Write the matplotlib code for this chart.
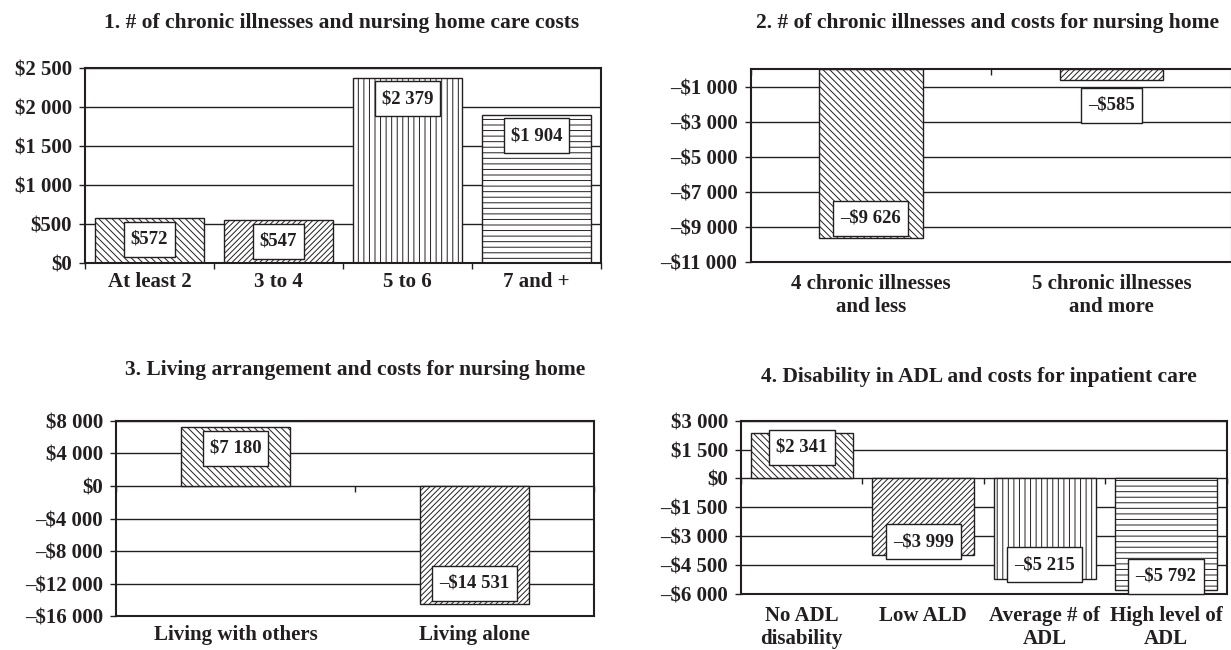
import matplotlib.pyplot as plt
import numpy as np
from matplotlib.path import Path

plt.rcParams['font.family'] = ['Liberation Serif', 'DejaVu Serif']
plt.rcParams['font.weight'] = 'bold'
plt.rcParams['hatch.linewidth'] = 0.7

INK = '#231f20'
W, H = 1231, 650

# 1. number of chronic illnesses vs nursing home care costs
cats1 = ['At least 2', '3 to 4', '5 to 6', '7 and +']
vals1 = [572, 547, 2379, 1904]
ticks1 = [0, 500, 1000, 1500, 2000, 2500]

# 2. chronic illnesses (two groups) vs nursing home costs
cats2 = ['4 chronic illnesses\nand less', '5 chronic illnesses\nand more']
vals2 = [-9626, -585]
ticks2 = [-11000, -9000, -7000, -5000, -3000, -1000]

# 3. living arrangement vs nursing home costs
cats3 = ['Living with others', 'Living alone']
vals3 = [7180, -14531]
ticks3 = [-16000, -12000, -8000, -4000, 0, 4000, 8000]

# 4. ADL disability vs inpatient care costs
cats4 = ['No ADL\ndisability', 'Low ALD', 'Average # of\nADL', 'High level of\nADL']
vals4 = [2341, -3999, -5215, -5792]
ticks4 = [-6000, -4500, -3000, -1500, 0, 1500, 3000]

BACK = '\\\\\\\\\\'
FWD = '//////'
VERT = '|||'
HORIZ = '---'


def money(v):
    s = f'${abs(v):,}'.replace(',', ' ')
    return '\u2013' + s if v < 0 else s


def label_box(x0, y0, width, height, mutation_size):
    # plain rectangle, padded more vertically than horizontally
    px, py = 0.38 * mutation_size, 0.48 * mutation_size
    x0, y0 = x0 - px, y0 - py
    x1, y1 = x0 + width + 2 * px, y0 + height + 2 * py
    return Path([(x0, y0), (x1, y0), (x1, y1), (x0, y1), (x0, y0)],
                closed=True)


fig = plt.figure(figsize=(W / 100, H / 100), dpi=100)


def draw_panel(rect, title, title_xy, cats, vals, yticks, ylim, width,
               hatches, label_off, xpad):
    l, t, r, b = rect
    ax = fig.add_axes([l / W, 1 - b / H, (r - l) / W, (b - t) / H])
    x = np.arange(len(cats))
    ax.set_xlim(-0.5, len(cats) - 0.5)
    ax.set_ylim(*ylim)
    ax.set_yticks(yticks)
    ax.set_yticklabels([money(v) for v in yticks])
    ax.yaxis.grid(True, color=INK, lw=1.0)
    ax.set_axisbelow(True)

    bars = ax.bar(x, vals, width=width, color='white', edgecolor=INK,
                  linewidth=1.0, zorder=2)
    for p, h in zip(bars, hatches):
        p.set_hatch(h)

    # category separators sit on the zero line, pointing down
    bounds = np.arange(len(cats) + 1) - 0.5
    ax.plot(bounds, np.zeros_like(bounds), ls='none', marker=3, ms=4,
            mew=1.0, color=INK, clip_on=False, zorder=3)

    ax.set_xticks(x)
    ax.set_xticklabels(cats)
    ax.tick_params(axis='x', length=0, pad=xpad, labelsize=15, colors=INK)
    ax.tick_params(axis='y', direction='out', length=4, width=1.0, pad=5.5,
                   labelsize=15, colors=INK)
    for sp in ax.spines.values():
        sp.set_linewidth(1.5)
        sp.set_color(INK)

    span = ylim[1] - ylim[0]
    for xi, v in zip(x, vals):
        if abs(v) / span < 0.1:
            dy = np.sign(v) * 18.5
        else:
            dy = -np.sign(v) * label_off
        ax.annotate(money(v), (xi, v), xytext=(0, dy),
                    textcoords='offset points', ha='center', va='center',
                    fontsize=13.5, color=INK, zorder=4,
                    bbox=dict(boxstyle=label_box, fc='white',
                              ec=INK, lw=1.0))

    fig.text(title_xy[0] / W, 1 - title_xy[1] / H, title, ha='center',
             va='center', fontsize=15.5, color=INK)
    return ax


draw_panel((85, 68.3, 601, 263),
           '1. # of chronic illnesses and nursing home care costs', (342, 23),
           cats1, vals1, ticks1, (0, 2500), 0.84,
           [BACK, FWD, VERT, HORIZ], 15, 6.5)

draw_panel((750.6, 69.3, 1232, 261.7),
           '2. # of chronic illnesses and costs for nursing home', (988, 23),
           cats2, vals2, ticks2, (-11000, 0), 0.43,
           [BACK, FWD], 14, 9)

draw_panel((116, 420.7, 594, 616.3),
           '3. Living arrangement and costs for nursing home', (355, 370),
           cats3, vals3, ticks3, (-16000, 8000), 0.455,
           [BACK, FWD], 15, 6.5)

draw_panel((741, 420.7, 1226.7, 594),
           '4. Disability in ADL and costs for inpatient care', (979, 377),
           cats4, vals4, ticks4, (-6000, 3000), 0.84,
           [BACK, FWD, VERT, HORIZ], 10, 8.5)

fig.savefig('out.png', dpi=100)
